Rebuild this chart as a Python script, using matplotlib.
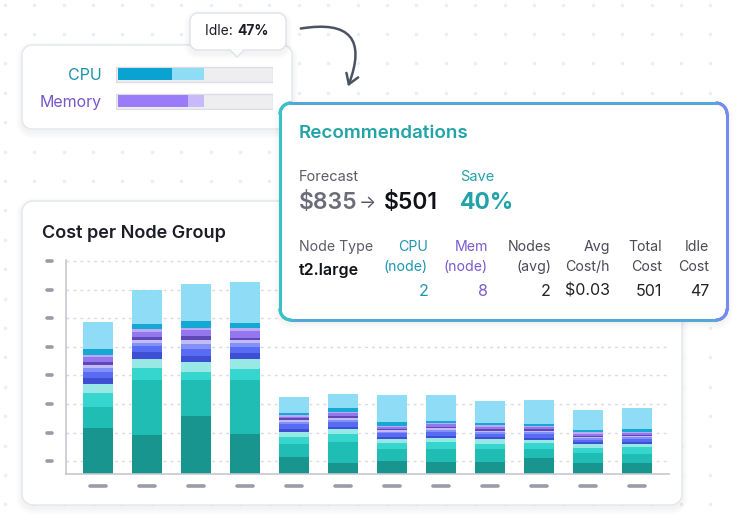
import numpy as np
import matplotlib
matplotlib.use("Agg")
import matplotlib.pyplot as plt
from matplotlib.patches import Polygon, FancyArrowPatch
from matplotlib.collections import LineCollection

plt.rcParams['font.family'] = ['Inter', 'DejaVu Sans']

# ---- data -------------------------------------------------------------
node_groups = list(range(12))
# stacked cost segments per node group, bottom -> top
seg_dark_teal = [16.0, 13.7, 20.4, 13.9, 6.05, 3.75, 4.65, 4.3, 4.3, 5.7, 3.95, 3.95]
seg_teal = [7.3, 19.3, 12.3, 19.0, 4.35, 7.55, 4.1, 4.45, 4.45, 3.05, 3.3, 3.05]
seg_light_teal = [5.1, 3.9, 2.8, 3.75, 2.45, 2.6, 2.2, 2.55, 1.65, 2.0, 1.95, 2.35]
seg_pale_teal = [3.0, 3.4, 3.5, 3.5, 1.75, 1.75, 1.2, 1.2, 1.75, 1.15, 1.2, 1.05]
seg_dark_blue = [2.0, 2.3, 2.3, 2.1, 1.05, 0.9, 0.9, 0.9, 0.8, 0.8, 0.7, 0.7]
seg_blue = [2.1, 2.1, 2.5, 2.3, 1.75, 1.75, 1.2, 1.2, 0.95, 1.3, 0.9, 1.15]
seg_periwinkle = [1.4, 1.2, 1.75, 1.2, 0.8, 0.7, 0.55, 0.7, 0.8, 0.6, 0.55, 0.6]
seg_lavender = [1.2, 0.8, 1.4, 1.05, 0.7, 0.6, 0.6, 0.7, 0.45, 0.55, 0.5, 0.45]
seg_dark_purple = [0.9, 1.05, 1.15, 0.9, 0.7, 0.7, 0.45, 0.45, 0.5, 0.5, 0.35, 0.35]
seg_purple = [1.9, 1.75, 2.35, 2.45, 0.45, 0.95, 0.6, 0.95, 0.9, 0.7, 0.7, 0.7]
seg_lavender2 = [0.7, 1.05, 0.7, 0.85, 0.5, 0.45, 0.45, 0.45, 0.5, 0.45, 0.45, 0.45]
seg_cyan = [2.0, 1.75, 2.2, 1.75, 0.7, 1.3, 1.2, 0.7, 0.7, 0.6, 0.95, 0.85]
seg_sky = [9.7, 11.9, 13.2, 14.35, 5.8, 5.0, 9.55, 9.1, 7.8, 8.5, 6.75, 7.35]

seg_colors = ['#17958e', '#1fbdb3', '#36d6ce', '#98e9e6', '#3f4fd4', '#586bf3',
              '#8191f7', '#c3baf7', '#5e48b8', '#9477ef', '#bcaaf7', '#14a8d2', '#8edcf6']

usage_labels = ['CPU', 'Memory']
usage_used = [35, 46]
usage_requested = [56, 56]

table_headers = [('Node Type', ''), ('CPU', '(node)'), ('Mem', '(node)'), ('Nodes', '(avg)'),
                 ('Avg', 'Cost/h'), ('Total', 'Cost'), ('Idle', 'Cost')]
table_values = ['t2.large', '2', '8', '2', '$0.03', '501', '47']

W, H = 739, 524
fig = plt.figure(figsize=(W / 100, H / 100), dpi=100)
fig.patch.set_facecolor('white')


def rr_pts(x0, y0, x1, y1, r, n=12):
    # rounded rectangle outline in pixel coords
    pts = []
    for cx, cy, a0 in [(x1 - r, y0 + r, -90), (x1 - r, y1 - r, 0), (x0 + r, y1 - r, 90), (x0 + r, y0 + r, 180)]:
        a = np.radians(np.linspace(a0, a0 + 90, n))
        pts += list(zip(cx + r * np.cos(a), cy + r * np.sin(a)))
    return np.array(pts)


def card(ax, x0, y0, x1, y1, r=10, edge='#e3e7ec', lw=1.0, z=1, shadow=True):
    if shadow:
        for k in range(1, 7):
            ax.add_patch(Polygon(rr_pts(x0 - k, y0 - k + 3, x1 + k, y1 + k + 3, r + k),
                                 closed=True, fc='#5a6a80', ec='none', alpha=0.012, zorder=z))
    ax.add_patch(Polygon(rr_pts(x0, y0, x1, y1, r), closed=True, fc='white', ec=edge, lw=lw, zorder=z))


# ---- background layer -------------------------------------------------
bg = fig.add_axes([0, 0, 1, 1])
bg.set_xlim(0, W)
bg.set_ylim(H, 0)
bg.axis('off')
bg.set_zorder(0)
gx, gy = np.meshgrid(np.arange(4.7, W, 29.4), np.arange(4.5, H, 29.4))
bg.scatter(gx.ravel(), gy.ravel(), s=7, color='#e9eff3', lw=0, zorder=0)

card(bg, 22, 45, 292, 129, r=10)
card(bg, 22, 201, 682, 505, r=11)
bg.text(42, 233, 'Cost per Node Group', fontsize=13, fontweight='semibold',
        color='#1c1d26', va='center', ha='left')

# tooltip
card(bg, 190, 13, 286, 50, r=8, edge='#dfe3e8')
bg.add_patch(Polygon([(230, 49.4), (244, 49.4), (237, 57)], closed=True, fc='white', ec='none', zorder=2))
bg.plot([230, 237, 244], [50, 57, 50], color='#dfe3e8', lw=1.0, zorder=2)
bg.text(237, 31, 'Idle: ', fontsize=10, color='#1c1d26', ha='right', va='center', zorder=3)
bg.text(237, 31, '47%', fontsize=10, fontweight='bold', color='#1c1d26', ha='left', va='center', zorder=3)

# curved arrow
bg.add_patch(FancyArrowPatch((298, 29), (347, 89), connectionstyle='arc3,rad=-0.9',
                             arrowstyle='->,head_length=7,head_width=4.5', color='#4b5363',
                             lw=1.8, mutation_scale=1, zorder=3))

# ---- usage widget -----------------------------------------------------
uw = fig.add_axes([116 / W, 1 - 109.5 / H, 157 / W, 43.5 / H])
uw.set_zorder(1)
uw.patch.set_alpha(0)
uw.set_xlim(-1.3, 101.3)
uw.set_ylim(109.5, 66)
uw_y = [74.2, 101.0]
uw.barh(uw_y, [102.6] * 2, left=-1.3, height=15, color='#eeeef1', edgecolor='#dcdde4', lw=1.0)
uw.barh(uw_y, usage_requested, height=11.5, color=['#8edcf6', '#c8b9fb'])
uw.barh(uw_y, usage_used, height=11.5, color=['#0aa2d1', '#9a7cf8'])
uw.set_yticks(uw_y, usage_labels)
uw.tick_params(axis='y', length=0, pad=10, labelsize=11.5)
for lab, c in zip(uw.get_yticklabels(), ['#1a93ad', '#7658cc']):
    lab.set_color(c)
uw.set_xticks([])
for s in uw.spines.values():
    s.set_visible(False)

# ---- stacked bar chart ------------------------------------------------
ax = fig.add_axes([66 / W, 1 - 474 / H, 603 / W, 214.5 / H])
ax.set_zorder(1)
ax.patch.set_alpha(0)
segs = [seg_dark_teal, seg_teal, seg_light_teal, seg_pale_teal, seg_dark_blue, seg_blue,
        seg_periwinkle, seg_lavender, seg_dark_purple, seg_purple, seg_lavender2, seg_cyan, seg_sky]
bottom = np.zeros(len(node_groups))
for vals, c in zip(segs, seg_colors):
    ax.bar(node_groups, vals, bottom=bottom, width=0.6, color=c, lw=0, zorder=2)
    bottom += np.array(vals)
ax.set_xlim(-0.65, 11.65)
ax.set_ylim(0, 75)
yt = np.arange(4.5, 76, 10)
ax.set_yticks(yt)
ax.set_xticks(node_groups)
ax.tick_params(length=0, labelleft=False, labelbottom=False)
ax.grid(axis='y', color='#d9dae2', lw=1.0, linestyle=(0, (2, 3)), zorder=0)
for s in ['top', 'right']:
    ax.spines[s].set_visible(False)
for s in ['left', 'bottom']:
    ax.spines[s].set_color('#c6c7d2')
    ax.spines[s].set_linewidth(1.2)
# placeholder tick labels drawn as grey dashes
ax.hlines(yt, -19 / 603, -14 / 603, transform=ax.get_yaxis_transform(), color='#9a9ba8',
          lw=2.6, capstyle='round', clip_on=False)
ax.hlines([-12 / 214.5] * len(node_groups), np.array(node_groups) - 0.16, np.array(node_groups) + 0.16,
          transform=ax.get_xaxis_transform(), color='#9a9ba8', lw=2.6, capstyle='round', clip_on=False)

# ---- recommendations card ---------------------------------------------
fg = fig.add_axes([0, 0, 1, 1])
fg.set_zorder(2)
fg.patch.set_alpha(0)
fg.set_xlim(0, W)
fg.set_ylim(H, 0)
fg.axis('off')
x0, y0, x1, y1 = 280, 103, 727, 320
card(fg, x0, y0, x1, y1, r=11, edge='none', lw=0)
pts = rr_pts(x0, y0, x1, y1, 11, n=20)
pts = np.vstack([pts, pts[:1]])
seglines = np.stack([pts[:-1], pts[1:]], axis=1)
t = (seglines[:, :, 0].mean(axis=1) - x0) / (x1 - x0)
c0, c1 = np.array([0.22, 0.76, 0.78]), np.array([0.45, 0.55, 0.93])
fg.add_collection(LineCollection(seglines, colors=[tuple(c0 + (c1 - c0) * v) for v in t], lw=2.2,
                                 capstyle='round', zorder=3))

teal = '#22a3a8'
fg.text(299, 133, 'Recommendations', fontsize=13.5, fontweight='semibold', color=teal, va='center')
fg.text(299, 177, 'Forecast', fontsize=10.5, color='#5b5c66', va='center')
fg.text(299, 203, '$835', fontsize=16.5, fontweight='semibold', color='#6b6c77', va='center')
fg.text(359, 203, '\u2192', fontsize=13, color='#555661', va='center')
fg.text(384, 203, '$501', fontsize=16.5, fontweight='semibold', color='#111218', va='center')
fg.text(460, 177, 'Save', fontsize=10.5, color=teal, va='center')
fg.text(460, 203, '40%', fontsize=16.5, fontweight='bold', color=teal, va='center')

col_x = [299, 428, 488, 551, 610, 662, 709]
head_colors = ['#5b5c66', '#1d97b0', '#7a5ad0', '#4a4b55', '#4a4b55', '#4a4b55', '#4a4b55']
val_colors = ['#111218', '#1d97b0', '#7a5ad0', '#222329', '#222329', '#222329', '#222329']
for i, ((h1, h2), v) in enumerate(zip(table_headers, table_values)):
    ha = 'left' if i == 0 else 'right'
    fg.text(col_x[i], 247, h1, fontsize=10.2, color=head_colors[i], ha=ha, va='center')
    if h2:
        fg.text(col_x[i], 267, h2, fontsize=10.2, color=head_colors[i], ha=ha, va='center')
    if i == 0:
        fg.text(col_x[i], 271, v, fontsize=11.5, fontweight='semibold', color=val_colors[i], ha=ha, va='center')
    else:
        fg.text(col_x[i], 291, v, fontsize=11.5, color=val_colors[i], ha=ha, va='center')

fig.savefig('out.png', dpi=100)
